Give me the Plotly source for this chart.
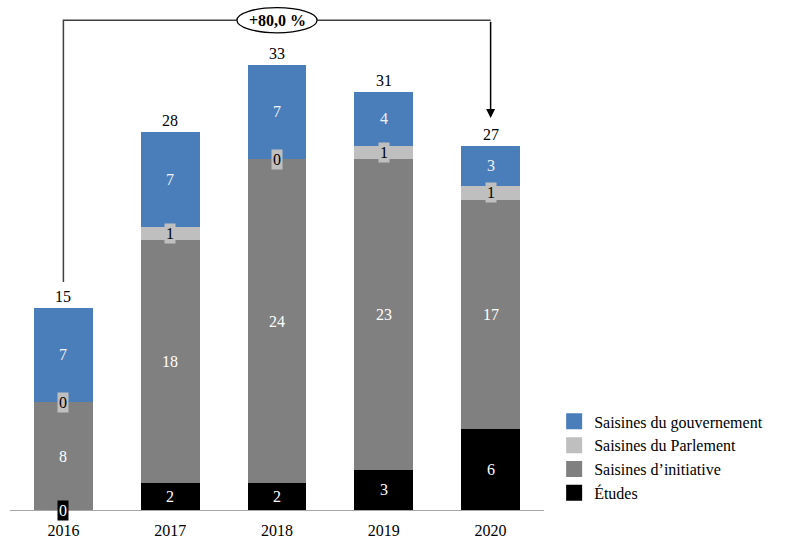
import plotly.graph_objects as go

years = ["2016", "2017", "2018", "2019", "2020"]
etudes = [0, 2, 2, 3, 6]
initiative = [8, 18, 24, 23, 17]
parlement = [0, 1, 0, 1, 1]
gouvernement = [7, 7, 7, 4, 3]

series_names = ["Études", "Saisines d’initiative", "Saisines du Parlement", "Saisines du gouvernement"]
series_values = [etudes, initiative, parlement, gouvernement]
series_colors = ["#000000", "#808080", "#BFBFBF", "#4A7EBB"]
label_colors = ["#FFFFFF", "#FFFFFF", "#000000", "#F2F2F2"]
label_bg = ["#000000", None, "#BFBFBF", None]

FONT = "Liberation Serif"
x = list(range(len(years)))
totals = [sum(v) for v in zip(*series_values)]

fig = go.Figure()
for name, vals, col in zip(series_names, series_values, series_colors):
    fig.add_trace(go.Bar(x=x, y=vals, name=name, marker=dict(color=col, line=dict(width=0)),
                         width=0.55, hoverinfo="skip", showlegend=False, legendgroup=name))
# legend entries with larger square swatches
for name, col in zip(series_names, series_colors):
    fig.add_trace(go.Scatter(x=[None], y=[None], mode="markers", name=name, legendgroup=name,
                             marker=dict(symbol="square", size=16, color=col, line=dict(width=0)),
                             hoverinfo="skip", showlegend=True))

annotations = []
# segment labels
base = [0] * len(x)
for vals, fc, bg in zip(series_values, label_colors, label_bg):
    for i, v in enumerate(vals):
        a = dict(x=x[i], y=base[i] + v / 2, text=str(v), showarrow=False,
                 font=dict(family=FONT, size=16, color=fc), xref="x", yref="y",
                 borderpad=1)
        if bg:
            a["bgcolor"] = bg
        annotations.append(a)
        base[i] += v

# totals
for i, t in enumerate(totals):
    annotations.append(dict(x=x[i], y=t, text=str(t), showarrow=False, yanchor="bottom",
                            yshift=1, font=dict(family=FONT, size=16, color="#000000")))

# growth bracket
top = max(totals) + 3.3
start = totals[0] + 1.9
end = totals[-1] + 2.05
growth = (totals[-1] - totals[0]) / totals[0] * 100
growth_txt = ("+" if growth >= 0 else "") + f"{growth:.1f}".replace(".", ",") + " %"
line_col = "#404040"
shapes = [
    dict(type="path", xref="x", yref="y",
         path=f"M {x[0]},{start} L {x[0]},{top} L {x[-1]},{top}",
         line=dict(color=line_col, width=1.5)),
    dict(type="circle", xref="x", yref="y", x0=2 - 0.375, x1=2 + 0.375,
         y0=top - 0.93, y1=top + 0.93, fillcolor="white", line=dict(color="#000000", width=1.3)),
]
annotations.append(dict(x=x[-1], y=end, ax=x[-1], ay=top, axref="x", ayref="y", xref="x", yref="y",
                        showarrow=True, arrowhead=2, arrowsize=1.2, arrowwidth=1.5,
                        arrowcolor="#000000", text=""))
annotations.append(dict(x=2, y=top, text=f"<b>{growth_txt}</b>", showarrow=False,
                        font=dict(family=FONT, size=16, color="#000000")))

fig.update_layout(
    barmode="stack",
    width=785, height=541,
    margin=dict(l=10, r=241, t=0, b=31, autoexpand=False),
    paper_bgcolor="white", plot_bgcolor="white",
    font=dict(family=FONT, size=16, color="#000000"),
    xaxis=dict(range=[-0.5, 4.5], tickvals=x, ticktext=years, showgrid=False, zeroline=False,
               showline=True, linecolor="#A6A6A6", linewidth=1.3, ticks="", automargin=False,
               ticklabelstandoff=6, tickfont=dict(family=FONT, size=16, color="#000000"),
               fixedrange=True),
    yaxis=dict(range=[0, 37.8], visible=False, showgrid=False, zeroline=False, fixedrange=True,
               automargin=False),
    legend=dict(traceorder="reversed", x=1.019, xanchor="left", y=0.207, yanchor="top",
                font=dict(family=FONT, size=16, color="#000000"), bgcolor="rgba(0,0,0,0)",
                itemclick=False, itemdoubleclick=False, itemsizing="trace"),
    shapes=shapes,
    annotations=annotations,
    showlegend=True,
)

fig.write_html("out.html")
